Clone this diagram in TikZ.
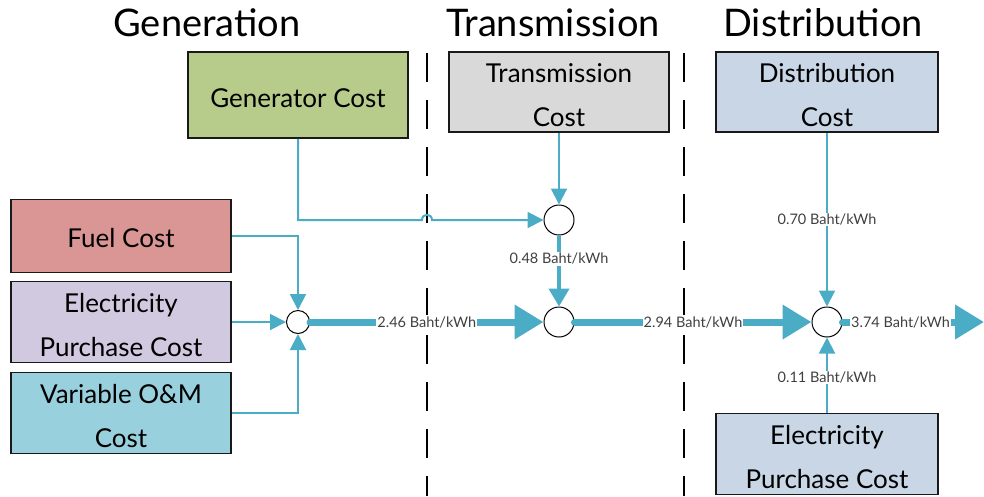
\documentclass[tikz,border=0pt]{standalone}
\usepackage{fontspec}
\setmainfont{Lato}
\usetikzlibrary{arrows.meta}
\definecolor{flow}{HTML}{4BACC6}
\definecolor{gencol}{HTML}{B7CC8A}
\definecolor{fuelcol}{HTML}{DA9694}
\definecolor{purcol}{HTML}{D1C9DF}
\definecolor{omcol}{HTML}{99D0DD}
\definecolor{trcol}{HTML}{D9D9D9}
\definecolor{dicol}{HTML}{C8D6E6}
\begin{document}
\begin{tikzpicture}[x=1pt,y=-1pt,
  box/.style={draw=black!90, line width=1.6pt, minimum width=220pt, inner sep=0pt},
  boxtext/.style={align=center, inner sep=0pt, font=\fontsize{26}{44}\selectfont},
  sum/.style={circle, draw=black, line width=1pt, fill=white, minimum size=30pt, inner sep=0pt},
  title/.style={font=\fontsize{38}{44}\selectfont},
  rate/.style={fill=white, inner sep=1pt, text=black!75, font=\fontsize{14.5}{16}\selectfont},
  thin flow/.style={draw=flow, line width=2pt, -{Triangle[length=16pt,width=16pt]}},
  mid flow/.style={draw=flow, line width=4pt, -{Triangle[length=18pt,width=20pt]}},
  thick flow/.style={draw=flow, line width=7pt, line cap=round, -{Triangle[length=29pt,width=33pt]}},
  stage/.style={draw=black, line width=2pt, dash pattern=on 29pt off 18pt}]
\useasboundingbox (0,0) rectangle (984,496);

% stage separators
\coordinate (sepA top) at (427,53);
\coordinate (sepA bot) at (427,496);
\coordinate (sepB top) at (684,53);
\coordinate (sepB bot) at (684,496);
\draw[stage] (sepA top) -- (sepA bot);
\draw[stage] (sepB top) -- (sepB bot);

% stage titles
\node[title] (tgen) at (207,23) {Generation};
\node[title] (ttr) at (553,23) {Transmission};
\node[title] (tdi) at (823,23) {Distribution};

% cost boxes
\node[box, fill=gencol, minimum height=86pt] (gen) at (298,95) {};
\node[box, fill=fuelcol, minimum height=73pt] (fuel) at (121,236) {};
\node[box, fill=purcol, minimum height=81pt] (buyG) at (121,322) {};
\node[box, fill=omcol, minimum height=81pt] (om) at (121,413) {};
\node[box, fill=trcol, minimum height=80pt] (trc) at (559,92) {};
\node[box, fill=dicol, minimum height=80pt, minimum width=222pt] (dic) at (827,92) {};
\node[box, fill=dicol, minimum height=81pt, minimum width=222pt] (buyD) at (827,454) {};

% box captions, set slightly below centre
\node[boxtext] (gen text) at ([yshift=-3pt]gen.center) {Generator Cost};
\node[boxtext] (fuel text) at ([yshift=-2pt]fuel.center) {Fuel Cost};
\node[boxtext] (buyG text) at ([yshift=-3pt]buyG.center) {Electricity\\Purchase Cost};
\node[boxtext] (om text) at ([yshift=-3pt]om.center) {Variable O\&M\\Cost};
\node[boxtext] (trc text) at ([yshift=-3pt]trc.center) {Transmission\\Cost};
\node[boxtext] (dic text) at ([yshift=-3pt]dic.center) {Distribution\\Cost};
\node[boxtext] (buyD text) at ([yshift=-3pt]buyD.center) {Electricity\\Purchase Cost};

% summing junctions
\node[sum, minimum size=23pt] (sg) at (298,322) {};
\node[sum] (st1) at (559,220) {};
\node[sum] (st2) at (559,322) {};
\node[sum] (sd) at (827,322) {};
\coordinate (out) at (984,322);
\coordinate (hopL) at (422,220);
\coordinate (hopR) at (432,220);

% generation inputs
\draw[thin flow] (fuel.east) -| (sg.north);
\draw[thin flow] (buyG.east) -- (sg.west);
\draw[thin flow] (om.east) -| (sg.south);

% generator cost to transmission junction, hopping over the separator
\draw[thin flow] (gen.south) |- (hopL) .. controls (422,213) and (432,213) .. (hopR) -- (st1.west);
\draw[thin flow] (trc.south) -- (st1.north);
\draw[mid flow] (st1.south) -- node[rate, pos=0.33] (r048) {0.48 Baht/kWh} (st2.north);

% distribution inputs
\draw[thin flow] (dic.south) -- node[rate] (r070) {0.70 Baht/kWh} (sd.north);
\draw[thin flow] (buyD.north) -- node[rate, pos=0.47] (r011) {0.11 Baht/kWh} (sd.south);

% main cost flow
\draw[thick flow] (sg.east) -- node[rate] (r246) {2.46 Baht/kWh} (st2.west);
\draw[thick flow] (st2.east) -- node[rate] (r294) {2.94 Baht/kWh} (sd.west);
\draw[thick flow] (sd.east) -- node[rate, pos=0.41] (r374) {3.74 Baht/kWh} (out);
\end{tikzpicture}
\end{document}
